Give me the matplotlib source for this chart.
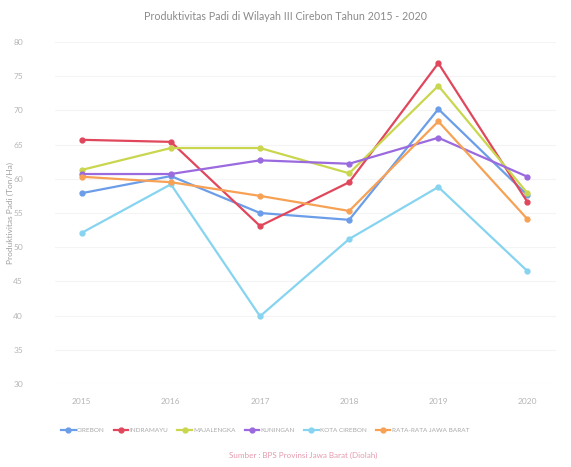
import matplotlib
matplotlib.use("Agg")
import matplotlib.pyplot as plt

years = ["2015", "2016", "2017", "2018", "2019", "2020"]
cirebon = [57.9, 60.4, 55.0, 54.0, 70.2, 57.6]
indramayu = [65.7, 65.4, 53.1, 59.5, 76.9, 56.6]
majalengka = [61.3, 64.5, 64.5, 60.8, 73.6, 57.9]
kuningan = [60.7, 60.7, 62.7, 62.2, 66.0, 60.3]
kota_cirebon = [52.1, 59.2, 39.9, 51.2, 58.8, 46.5]
rata_jabar = [60.3, 59.5, 57.5, 55.3, 68.4, 54.1]

series = [
    ("CIREBON", cirebon, "#6b9de8"),
    ("INDRAMAYU", indramayu, "#e0475c"),
    ("MAJALENGKA", majalengka, "#c9d64e"),
    ("KUNINGAN", kuningan, "#9a6ade"),
    ("KOTA CIREBON", kota_cirebon, "#86d4f0"),
    ("RATA-RATA JAWA BARAT", rata_jabar, "#f7a155"),
]
yticks = [30, 35, 40, 45, 50, 55, 60, 65, 70, 75, 80]

plt.rcParams['font.family'] = ['Lato', 'DejaVu Sans']

W, H = 571, 467
fig = plt.figure(figsize=(W / 100, H / 100), dpi=100)
left, right, top, bottom = 55, 556, 42, 384
ax = fig.add_axes([left / W, 1 - bottom / H, (right - left) / W, (bottom - top) / H])

x = list(range(len(years)))
for name, vals, col in series:
    ax.plot(x, vals, color=col, lw=1.6, marker='o', markersize=3.5, label=name)

ax.set_ylim(30, 80)
ax.set_yticks(yticks)
ax.set_xticks(x)
ax.set_xticklabels(years)
ax.set_xlim(-0.30, 5.32)
ax.grid(axis='y', color='#f4f4f4', lw=0.8)
ax.set_axisbelow(True)
for s in ax.spines.values():
    s.set_visible(False)
ax.tick_params(length=0, labelsize=6, colors='#b5b5b5')
ax.tick_params(axis='y', pad=23)
ax.tick_params(axis='x', pad=10)
ax.set_ylabel("Produktivitas Padi (Ton/Ha)", fontsize=6, color='#a0a0a0')
ax.yaxis.set_label_coords((14 - left) / (right - left), 0.5)

fig.text(0.5, 1 - 17 / H, "Produktivitas Padi di Wilayah III Cirebon Tahun 2015 - 2020",
         ha='center', va='center', fontsize=7.7, color='#8a8a8a')

fig.legend(loc='center', bbox_to_anchor=(265 / W, 1 - 430 / H), ncol=6, frameon=False,
           fontsize=4.6, labelcolor='#a8a8a8', handlelength=2.3, columnspacing=1.4,
           handletextpad=0.2)

fig.text(303 / W, 1 - 455 / H, "Sumber : BPS Provinsi Jawa Barat (Diolah)",
         ha='center', va='center', fontsize=5.8, color='#e49aae')

fig.savefig("out.png", dpi=100, facecolor='white')
